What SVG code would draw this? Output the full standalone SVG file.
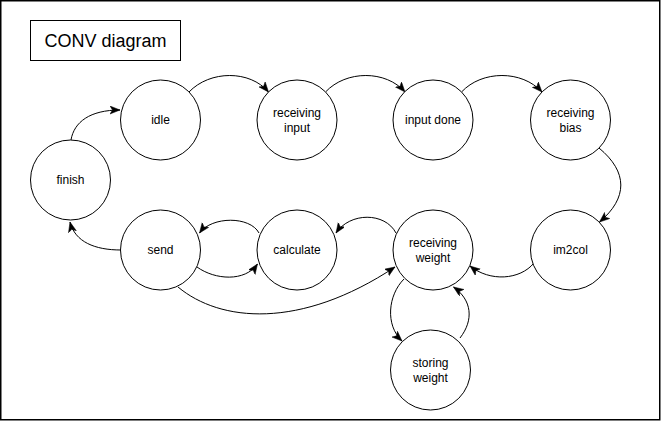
<svg xmlns="http://www.w3.org/2000/svg" width="661" height="421" viewBox="0 0 661 421">
<defs>
<style>
.node circle{fill:#fff;stroke:#000;stroke-width:1}
.node text,.title text{font-family:"Liberation Sans",Arial,sans-serif;font-size:12px;fill:#000;text-anchor:middle}
.title text{font-size:18px}
.edges path{fill:none;stroke:#000;stroke-width:1;marker-end:url(#arr)}
</style>
<marker id="arr" markerUnits="userSpaceOnUse" markerWidth="12" markerHeight="10" refX="10" refY="4" orient="auto">
<path d="M0,0 L10,4 L0,8 L2.5,4 Z" fill="#000" stroke="#000" stroke-width="0.5"/>
</marker>
</defs>
<rect x="0" y="0" width="661" height="421" fill="#fff"/>
<rect x="0.75" y="0.75" width="659" height="419" fill="none" stroke="#000" stroke-width="1.5"/>
<g id="title" class="title">
<rect x="30.5" y="20.5" width="150" height="40" fill="#fff" stroke="#000"/>
<text x="105.5" y="47">CONV diagram</text>
</g>
<g id="edges" class="edges">
<path d="M71,140 C74,122 90,110 120,110"/>
<path d="M189,92 C210,70 250,70 268.5,92"/>
<path d="M325.5,92 C346,70 386,70 405,92"/>
<path d="M461.5,92 C482,70 522,70 542,92"/>
<path d="M599,148 C628,172 628,198 599.5,222"/>
<path d="M534,263 C520,280 490,282 470,266"/>
<path d="M396,233 C385,212 350,212 336,233"/>
<path d="M259,233 C250,216 212,216 199.5,233"/>
<path d="M197,267 C215,280 245,282 257.5,264"/>
<path d="M178,287 C220,322 300,330 395,267"/>
<path d="M121,250 C95,250 75,242 70,222"/>
<path d="M404,279 C388,295 385,325 402,341"/>
<path d="M460,338 C474,320 472,300 453.5,287"/>
</g>
<g id="finish" class="node"><circle cx="70.5" cy="180" r="40"/><text x="70.5" y="184">finish</text></g>
<g id="idle" class="node"><circle cx="160.5" cy="120" r="40"/><text x="160.5" y="124">idle</text></g>
<g id="receiving-input" class="node"><circle cx="297" cy="120" r="40"/><text x="297" y="117">receiving</text><text x="297" y="131.5">input</text></g>
<g id="input-done" class="node"><circle cx="433" cy="120" r="40"/><text x="433" y="124">input done</text></g>
<g id="receiving-bias" class="node"><circle cx="570.5" cy="120" r="40"/><text x="570.5" y="117">receiving</text><text x="570.5" y="131.5">bias</text></g>
<g id="send" class="node"><circle cx="160.5" cy="250" r="40"/><text x="160.5" y="254">send</text></g>
<g id="calculate" class="node"><circle cx="297" cy="250" r="40"/><text x="297" y="254">calculate</text></g>
<g id="receiving-weight" class="node"><circle cx="433" cy="250" r="40"/><text x="433" y="247">receiving</text><text x="433" y="261.5">weight</text></g>
<g id="im2col" class="node"><circle cx="570.5" cy="250" r="40"/><text x="570.5" y="254">im2col</text></g>
<g id="storing-weight" class="node"><circle cx="430.5" cy="370" r="40"/><text x="430.5" y="367">storing</text><text x="430.5" y="381.5">weight</text></g>
</svg>
